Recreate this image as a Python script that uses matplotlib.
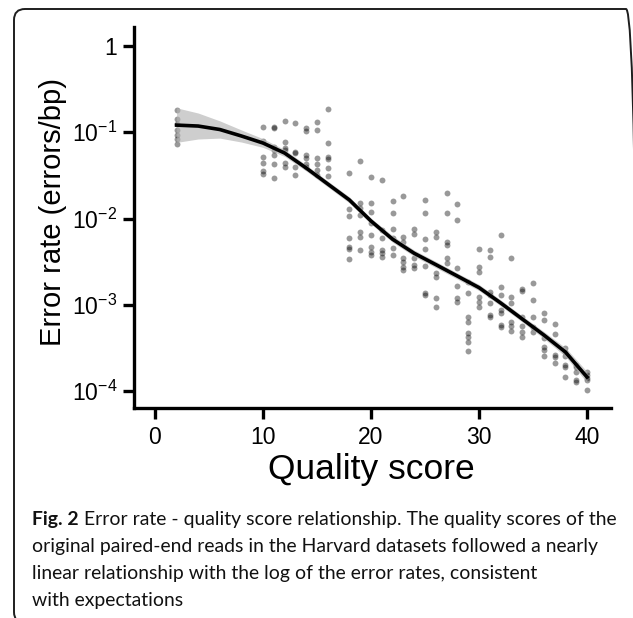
import numpy as np
import matplotlib
matplotlib.use("Agg")
import matplotlib.pyplot as plt
from matplotlib.patches import FancyBboxPatch
from matplotlib.ticker import FixedLocator, FixedFormatter

# ---------------- data ----------------
scores = [2, 10, 11, 12, 13, 14, 15, 16, 18, 19, 20, 21, 22, 23, 24, 25, 26,
          27, 28, 29, 30, 31, 32, 33, 34, 35, 36, 37, 38, 39, 40]
rates = [
    [0.181, 0.143, 0.125, 0.106, 0.093, 0.0835, 0.073],
    [0.115, 0.079, 0.0516, 0.044, 0.0356, 0.0328],
    [0.115, 0.112, 0.0675, 0.0623, 0.0545, 0.0428, 0.0295],
    [0.135, 0.077, 0.0657, 0.0623, 0.044, 0.0395],
    [0.128, 0.059, 0.0574, 0.0395, 0.0319],
    [0.112, 0.103, 0.0545, 0.0503, 0.0428, 0.0395],
    [0.131, 0.106, 0.0503, 0.0428, 0.0365, 0.0319],
    [0.186, 0.075, 0.0516, 0.049, 0.0385, 0.0311],
    [0.0337, 0.0129, 0.0107, 0.00594, 0.00467, 0.00443, 0.00339],
    [0.0464, 0.0151, 0.0132, 0.0110, 0.00697, 0.00611, 0.00431],
    [0.0303, 0.0151, 0.0119, 0.00887, 0.00644, 0.00467, 0.00409, 0.00377],
    [0.0279, 0.00736, 0.00594, 0.00431, 0.00398, 0.00358],
    [0.0160, 0.0116, 0.00755, 0.00594, 0.0045, 0.00377],
    [0.0182, 0.00611, 0.00534, 0.00348, 0.00313, 0.00274, 0.00253],
    [0.00755, 0.0067, 0.00348, 0.00289, 0.00267],
    [0.0164, 0.0116, 0.00578, 0.00443, 0.00281, 0.00137, 0.00130],
    [0.00697, 0.00611, 0.00233, 0.00210, 0.00120, 0.000942],
    [0.0198, 0.0116, 0.00534, 0.00493, 0.00348, 0.00305],
    [0.0147, 0.00961, 0.00267, 0.00165, 0.00120, 0.00108],
    [0.00185, 0.00137, 0.000721, 0.000631, 0.00047, 0.000423, 0.00037, 0.000291],
    [0.00443, 0.00274, 0.0024, 0.00123, 0.00108, 0.000942],
    [0.00431, 0.00358, 0.00141, 0.0013, 0.00105, 0.00076, 0.000721],
    [0.00644, 0.00161, 0.0013, 0.000869, 0.000802, 0.000582, 0.000552],
    [0.00348, 0.00123, 0.00105, 0.000631, 0.000567, 0.000496],
    [0.00152, 0.00144, 0.000721, 0.000567, 0.000483, 0.000423],
    [0.00179, 0.00114, 0.000721, 0.000552, 0.000483],
    [0.000802, 0.000665, 0.000411, 0.000324, 0.000299, 0.000254],
    [0.000598, 0.000458, 0.000261, 0.000248, 0.000211],
    [0.000315, 0.000283, 0.000254, 0.0002, 0.00019, 0.000145],
    [0.0002, 0.00019, 0.000166, 0.000134, 0.000127],
    [0.000166, 0.000153, 0.000141, 0.000134, 0.000103],
]

fit_quality = [2, 4, 6, 8, 10, 12, 14, 16, 18, 20, 22, 24, 26, 28, 30, 32, 34, 36, 38, 40]
fit_rate = [0.121, 0.118, 0.1076, 0.0905, 0.075, 0.0574, 0.0385, 0.0251, 0.0164,
            0.00935, 0.00575, 0.00395, 0.00292, 0.00215, 0.00158, 0.00105,
            0.000684, 0.000446, 0.000283, 0.000145]
band_low = [0.0763, 0.0835, 0.0855, 0.0770, 0.0668, 0.0524, 0.0355, 0.0232, 0.0151,
            0.00863, 0.0053, 0.00364, 0.00269, 0.00198, 0.00146, 0.00097,
            0.000631, 0.000407, 0.000252, 0.000125]
band_high = [0.192, 0.167, 0.1355, 0.1063, 0.0842, 0.0629, 0.0417, 0.0272, 0.0178,
             0.0101, 0.0063, 0.00430, 0.00318, 0.00233, 0.00172, 0.00114,
             0.000742, 0.000489, 0.000318, 0.000168]

x_ticks = [0, 10, 20, 30, 40]
x_tick_labels = ["0", "10", "20", "30", "40"]
y_ticks = [1e-4, 1e-3, 1e-2, 1e-1, 1]
y_tick_labels = [r"$\mathregular{10^{-4}}$", r"$\mathregular{10^{-3}}$",
                 r"$\mathregular{10^{-2}}$", r"$\mathregular{10^{-1}}$", "1"]

x_label = "Quality score"
y_label = "Error rate (errors/bp)"
caption_bold = "Fig. 2"
caption_lines = [
    " Error rate - quality score relationship. The quality scores of the",
    "original paired-end reads in the Harvard datasets followed a nearly",
    "linear relationship with the log of the error rates, consistent",
    "with expectations",
]

# ---------------- style ----------------
plt.rcParams["font.family"] = ["Liberation Sans", "DejaVu Sans"]
plt.rcParams["mathtext.fontset"] = "custom"
plt.rcParams["mathtext.rm"] = "Liberation Sans"
plt.rcParams["mathtext.it"] = "Liberation Sans:italic"
plt.rcParams["mathtext.bf"] = "Liberation Sans:bold"

W, H = 633, 618
fig = plt.figure(figsize=(W / 100, H / 100), dpi=100)

# panel border (rounded rectangle, right side running off the image)
border = FancyBboxPatch((0.14, -0.05), 6.23, 6.14,
                        boxstyle="round,pad=0,rounding_size=0.11",
                        transform=fig.dpi_scale_trans, fill=False,
                        edgecolor="#1e1e1e", linewidth=1.4, clip_on=False)
fig.patches.append(border)

ax = fig.add_axes([134 / W, 1 - 408 / H, 477 / W, 381 / H])
ax.set_yscale("log")
ax.set_xlim(-1.944, 42.22)
ax.set_ylim(10 ** -4.197, 10 ** 0.2203)

for q, r in zip(scores, rates):
    ax.scatter([q] * len(r), r, s=18, color="black", alpha=0.4,
               linewidths=0, zorder=2)

ax.fill_between(fit_quality, band_low, band_high, color="#b4b4b4",
                alpha=0.65, linewidth=0, zorder=3)
ax.plot(fit_quality, fit_rate, color="black", lw=2.6, zorder=4,
        solid_joinstyle="round")

for s in ["top", "right"]:
    ax.spines[s].set_visible(False)
for s in ["left", "bottom"]:
    ax.spines[s].set_linewidth(2.4)
    ax.spines[s].set_color("black")

ax.xaxis.set_major_locator(FixedLocator(x_ticks))
ax.xaxis.set_major_formatter(FixedFormatter(x_tick_labels))
ax.yaxis.set_major_locator(FixedLocator(y_ticks))
ax.yaxis.set_major_formatter(FixedFormatter(y_tick_labels))
ax.yaxis.set_minor_locator(FixedLocator([]))
ax.tick_params(axis="both", which="major", length=8, width=2.4,
               direction="out", labelsize=16.5, colors="black")
ax.tick_params(axis="x", pad=5)
ax.tick_params(axis="y", pad=4)

ax.set_xlabel(x_label, fontsize=25.5)
ax.xaxis.set_label_coords((371.5 - 134) / 477, (408 - 453) / 381)
ax.set_ylabel(y_label, fontsize=21)
ax.yaxis.set_label_coords((67 - 134) / 477, 0.515)

# ---------------- caption ----------------
cap_font = ["Lato", "DejaVu Sans"]
x0 = 32
baselines = [525, 552, 579, 606]
target_w = 580.0
size = 12.0

fig.canvas.draw()
renderer = fig.canvas.get_renderer()

def make_first(sz):
    tb = fig.text(x0 / W, 1 - baselines[0] / H, caption_bold, family=cap_font,
                  weight="bold", fontsize=sz, va="baseline", ha="left",
                  color="#111111")
    bb = tb.get_window_extent(renderer)
    tr = fig.text(bb.x1 / W, 1 - baselines[0] / H, caption_lines[0],
                  family=cap_font, fontsize=sz, va="baseline", ha="left",
                  color="#111111")
    return tb, tr

tb, tr = make_first(size)
w = tr.get_window_extent(renderer).x1 - x0
tb.remove(); tr.remove()
size = size * target_w / w
tb, tr = make_first(size)
for line, yb in zip(caption_lines[1:], baselines[1:]):
    fig.text(x0 / W, 1 - yb / H, line, family=cap_font, fontsize=size,
             va="baseline", ha="left", color="#111111")

fig.savefig("out.png", dpi=100)
